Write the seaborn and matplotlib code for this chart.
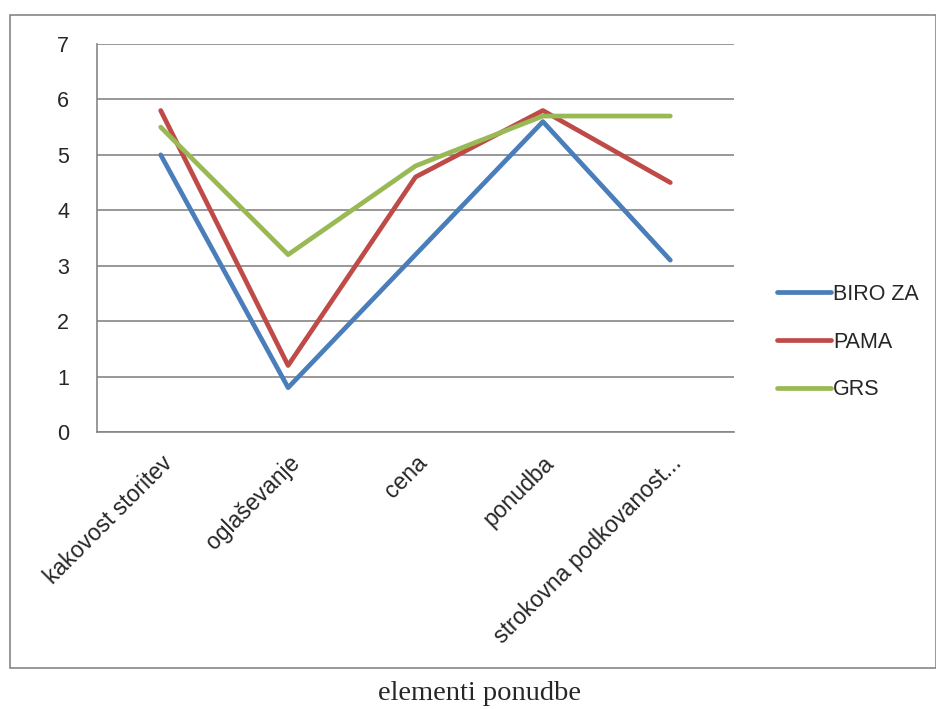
import numpy as np
import pandas as pd
import seaborn as sns
import matplotlib.pyplot as plt
from matplotlib.patches import Rectangle
from matplotlib.ticker import FixedLocator

# kategorije in vrednosti
categories = ['kakovost storitev', 'oglaševanje', 'cena', 'ponudba', 'strokovna podkovanost...']
biro_za = [5.0, 0.8, 3.2, 5.6, 3.1]
pama = [5.8, 1.2, 4.6, 5.8, 4.5]
grs = [5.5, 3.2, 4.8, 5.7, 5.7]
series_names = ['BIRO ZA', 'PAMA', 'GRS']
colors = ['#4A7EBB', '#BE4B48', '#98B954']

df = pd.DataFrame({
    'x': list(range(len(categories))) * 3,
    'value': biro_za + pama + grs,
    'series': [s for s in series_names for _ in categories],
})

sns.set_style('white')
plt.rcParams['font.family'] = ['Liberation Sans', 'DejaVu Sans']

fig = plt.figure(figsize=(9.37, 7.09), dpi=100)
ax = fig.add_axes([97/937, 1 - 432/709, (734-97)/937, (432-44)/709])

sns.lineplot(data=df, x='x', y='value', hue='series', palette=colors,
             linewidth=3.4, ax=ax, legend=True)

ax.set_xlim(-0.5, len(categories) - 0.5)
ax.set_ylim(0, 7)
ax.set_yticks(range(0, 8))
ax.set_xticks(range(len(categories)))
ax.set_xticklabels(categories, rotation=45, ha='right', rotation_mode='anchor', fontsize=16.5)
ax.xaxis.set_minor_locator(FixedLocator(np.arange(-0.5, len(categories), 1)))
ax.tick_params(axis='x', which='major', length=0, pad=14)
ax.tick_params(axis='x', which='minor', length=6, color='#868686', width=1.2, direction='out')
ax.tick_params(axis='y', length=6, color='#868686', width=1.2, direction='out', labelsize=15.5, pad=14)
ax.grid(axis='y', color='#868686', linewidth=1.2)
ax.set_axisbelow(True)
for s in ['top', 'right']:
    ax.spines[s].set_visible(False)
for s in ['left', 'bottom']:
    ax.spines[s].set_color('#868686')
    ax.spines[s].set_linewidth(1.2)
ax.set_xlabel('')
ax.set_ylabel('')

handles, labels = ax.get_legend_handles_labels()
ax.legend(handles, labels, loc='center left', bbox_to_anchor=(758/937, 1 - 342/709),
          bbox_transform=fig.transFigure, frameon=False, fontsize=15.5,
          handlelength=2.5, labelspacing=1.25, handletextpad=0.1)

# okvir grafa
fig.patches.append(Rectangle((10/937, 1 - 668/709), 1 - 10/937 - 0.001, (668-15)/709,
                             transform=fig.transFigure, fill=False,
                             edgecolor='#868686', linewidth=1.2))

fig.text(480/937, 1 - 693/709, 'elementi ponudbe', ha='center', va='center',
         fontsize=20.5, family=['Liberation Serif'])

fig.savefig('out.png', dpi=100)
